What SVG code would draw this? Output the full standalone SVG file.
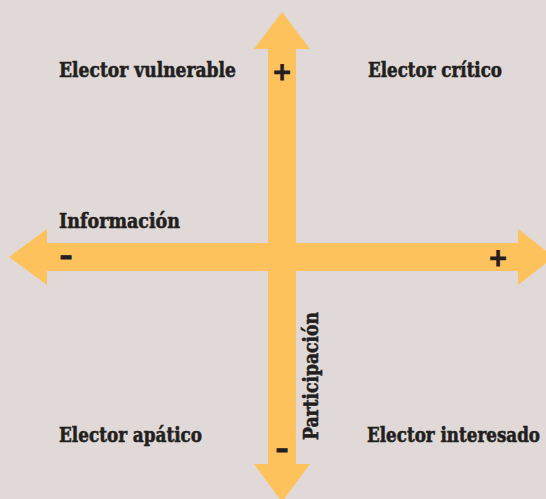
<svg xmlns="http://www.w3.org/2000/svg" width="546" height="499" viewBox="0 0 546 499">
<style>
.arrow{fill:#fec25c}
.lbl{font-family:"DejaVu Serif",serif;font-weight:bold;font-size:20px;fill:#231f20;stroke:#231f20;stroke-width:0.6}
.sym{font-family:"DejaVu Sans",sans-serif;font-weight:bold;fill:#231f20;text-anchor:middle;stroke:#231f20;stroke-width:0.8}
</style>
<rect width="546" height="499" fill="#e0d9d8"/>
<g id="connectors">
<polygon class="arrow" points="9,257 47,229 47,243 518,243 518,229 554,257 518,285 518,271 47,271 47,285"/>
<polygon class="arrow" points="282,12 310,49 296,49 296,464 310,464 282,502 254,464 268,464 268,49 254,49"/>
</g>
<g id="n-vulnerable"><text class="lbl" x="59" y="77" textLength="177" lengthAdjust="spacingAndGlyphs">Elector vulnerable</text></g>
<g id="n-critico"><text class="lbl" x="368" y="77" textLength="134" lengthAdjust="spacingAndGlyphs">Elector crítico</text></g>
<g id="n-apatico"><text class="lbl" x="59" y="442" textLength="143" lengthAdjust="spacingAndGlyphs">Elector apático</text></g>
<g id="n-interesado"><text class="lbl" transform="translate(367,442) scale(0.84,1)" x="0" y="0" textLength="206" lengthAdjust="spacingAndGlyphs">Elector interesado</text></g>
<g id="n-informacion"><text class="lbl" x="59" y="228" textLength="121" lengthAdjust="spacingAndGlyphs">Información</text></g>
<g id="n-participacion"><text class="lbl" transform="translate(318,440) rotate(-90)" x="0" y="0" textLength="128" lengthAdjust="spacingAndGlyphs">Participación</text></g>
<g id="signs">
<text class="sym" x="282" y="80" font-size="24">+</text>
<text class="sym" x="498" y="266" font-size="24">+</text>
<text class="sym" x="66" y="265" font-size="26">–</text>
<text class="sym" x="282" y="458" font-size="26">–</text>
</g>
</svg>
